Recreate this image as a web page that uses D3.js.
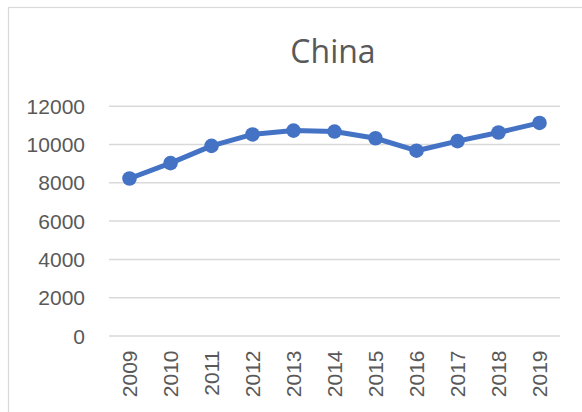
<!DOCTYPE html>
<html>
<head>
<meta charset="utf-8">
<script src="https://cdn.jsdelivr.net/npm/d3@7"></script>
<style>
  html, body { margin: 0; padding: 0; background: #fff; }
  svg { display: block; }
  text { font-family: "Liberation Sans", Arial, sans-serif; fill: #595959; }
</style>
</head>
<body>
<svg id="chart" width="582" height="412"></svg>
<script>
// Annual values for China, 2009–2019
const years = ["2009", "2010", "2011", "2012", "2013", "2014", "2015", "2016", "2017", "2018", "2019"];
const values = [8200, 9000, 9900, 10500, 10700, 10650, 10300, 9650, 10150, 10600, 11100];
const yTicks = [0, 2000, 4000, 6000, 8000, 10000, 12000];
const title = "China";

const svg = d3.select("#chart");
const plot = { left: 109, right: 560, top: 105.7, bottom: 335.5 };

// Chart frame (runs off the right and bottom edges)
svg.append("rect")
  .attr("x", 8.5).attr("y", 7.5)
  .attr("width", 620).attr("height", 440)
  .attr("fill", "#fff")
  .attr("stroke", "#d9d9d9").attr("stroke-width", 1.2);

const x = d3.scaleBand().domain(years).range([plot.left, plot.right]);
const y = d3.scaleLinear().domain([0, 12000]).range([plot.bottom, plot.top]);

// Title
svg.append("text")
  .attr("x", 333).attr("y", 63)
  .attr("text-anchor", "middle")
  .style("font-size", "32px")
  .style("font-family", "'Open Sans', 'Liberation Sans', sans-serif")
  .text(title);

// Horizontal gridlines + y labels
const yAxis = d3.axisLeft(y).tickValues(yTicks).tickSize(-(plot.right - plot.left)).tickPadding(24).tickFormat(d3.format("d"));
const gy = svg.append("g").attr("transform", `translate(${plot.left},0)`).call(yAxis);
gy.select(".domain").remove();
gy.selectAll(".tick line").attr("stroke", "#d9d9d9").attr("stroke-width", 1.5);
gy.selectAll(".tick text").attr("fill", "#595959").style("font-size", "21px")
  .attr("dy", "0.36em")
  .style("font-family", "'Liberation Sans', Arial, sans-serif");

// Category labels, rotated
const xAxis = d3.axisBottom(x).tickSize(0).tickPadding(0);
const gx = svg.append("g").attr("transform", `translate(0,${plot.bottom})`).call(xAxis);
gx.select(".domain").remove();
gx.selectAll(".tick text")
  .attr("fill", "#595959")
  .style("font-size", "21px")
  .style("font-family", "'Liberation Sans', Arial, sans-serif")
  .attr("transform", "rotate(-90)")
  .attr("text-anchor", "end")
  .attr("x", -15)
  .attr("y", 0)
  .attr("dy", "0.36em");

// Series line and markers
const cx = d => x(d) + x.bandwidth() / 2;
const data = years.map((yr, i) => ({ yr, v: values[i] }));

svg.append("path")
  .datum(data)
  .attr("fill", "none")
  .attr("stroke", "#4472C4")
  .attr("stroke-width", 5)
  .attr("stroke-linejoin", "round")
  .attr("d", d3.line().x(d => cx(d.yr)).y(d => y(d.v)));

svg.selectAll("circle.pt")
  .data(data)
  .join("circle")
  .attr("class", "pt")
  .attr("cx", d => cx(d.yr))
  .attr("cy", d => y(d.v))
  .attr("r", 7.3)
  .attr("fill", "#4472C4");
</script>
</body>
</html>
